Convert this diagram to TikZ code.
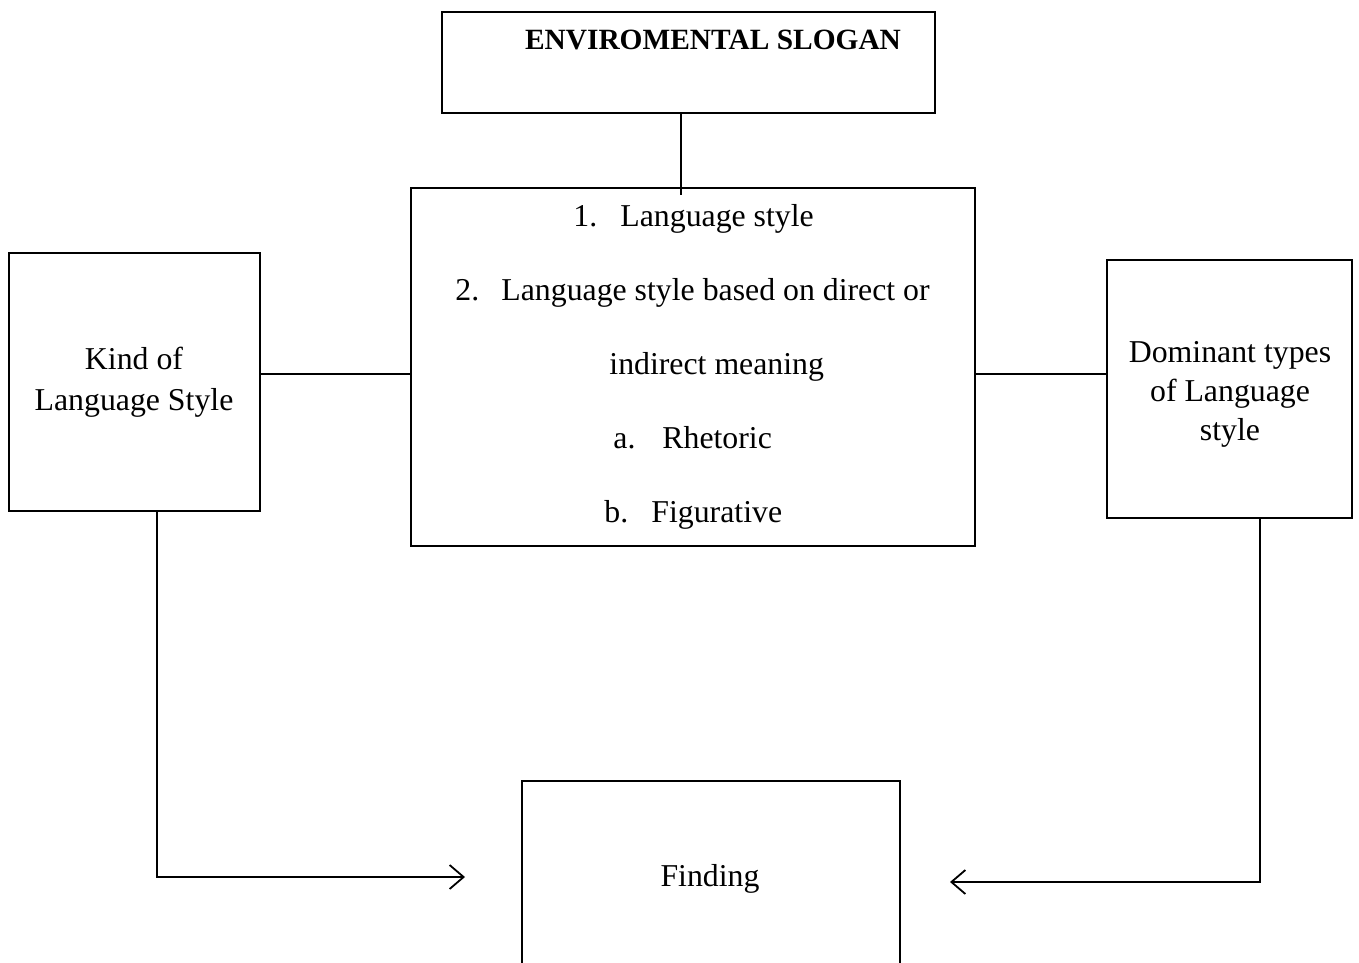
\documentclass[tikz,border=0pt]{standalone}
\usepackage{fontspec}
\setmainfont{Liberation Serif}
\usetikzlibrary{arrows.meta}
\begin{document}
\begin{tikzpicture}[x=0.5pt,y=-0.5pt,
  box/.style={draw,line width=0.75pt,inner sep=0pt},
  conn/.style={line width=0.75pt},
  arr/.style={line width=1.1pt,-{Straight Barb[length=7pt,width=12pt,line width=0.9pt]}},
  txt/.style={inner sep=0pt,font=\fontsize{15.9}{18}\selectfont}]
\clip (0,0) rectangle (1359,963);
\useasboundingbox (0,0) rectangle (1359,963);
% boxes
\node[box,minimum width=246.5pt,minimum height=50.5pt] (top) at (688.5,62.5) {};
\node[box,minimum width=282pt,minimum height=179pt] (mid) at (693,367) {};
\node[box,minimum width=125.5pt,minimum height=129pt] (left) at (134.5,382) {};
\node[box,minimum width=122.5pt,minimum height=129pt] (right) at (1229.5,389) {};
\node[box,minimum width=189pt,minimum height=100pt] (find) at (711,881) {};
% texts
\node[txt,anchor=base,font=\fontsize{14.7}{17}\selectfont\bfseries] (ttl) at (713,50) {ENVIROMENTAL SLOGAN};
\node[txt,anchor=base west] (l1a) at (573,226) {1.};
\node[txt,anchor=base west] (l1b) at (620,226) {Language style};
\node[txt,anchor=base west] (l2a) at (455,300) {2.};
\node[txt,anchor=base west] (l2b) at (501,300) {Language style based on direct or};
\node[txt,anchor=base west] (l3) at (609,374) {indirect meaning};
\node[txt,anchor=base west] (l4a) at (613,448) {a.};
\node[txt,anchor=base west] (l4b) at (662,448) {Rhetoric};
\node[txt,anchor=base west] (l5a) at (604,522) {b.};
\node[txt,anchor=base west] (l5b) at (651,522) {Figurative};
\node[txt,anchor=base] (k1) at (134,369) {Kind of};
\node[txt,anchor=base] (k2) at (134,410) {Language Style};
\node[txt,anchor=base] (d1) at (1230,362) {Dominant types};
\node[txt,anchor=base] (d2) at (1230,401) {of Language};
\node[txt,anchor=base] (d3) at (1230,440) {style};
\node[txt,anchor=base] (fd) at (710,886) {Finding};
% connectors
\coordinate (midtop) at (681,195);
\coordinate (la) at (465,877);
\coordinate (ra) at (950,882);
\draw[conn] (top.south -| midtop) -- (midtop);
\draw[conn] (left.east |- 0,374) -- (mid.west |- 0,374);
\draw[conn] (mid.east |- 0,374) -- (right.west |- 0,374);
\draw[arr] (left.south -| 157,0) |- (la);
\draw[arr] (right.south -| 1260,0) |- (ra);
\end{tikzpicture}
\end{document}
